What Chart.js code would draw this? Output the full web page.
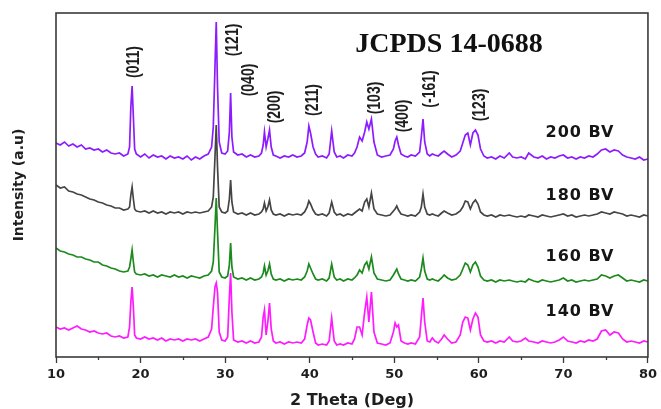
<!DOCTYPE html>
<html>
<head>
<meta charset="utf-8">
<script src="https://cdn.jsdelivr.net/npm/chart.js@4/dist/chart.umd.min.js"></script>
<style>
  html, body { margin: 0; padding: 0; background: #fff; }
  #wrap { width: 661px; height: 409px; }
</style>
</head>
<body>
<div id="wrap"><canvas id="xrd" width="661" height="409"></canvas></div>
<script>
// 2 theta positions shared by all four patterns
var twoTheta = [
    10, 10.5, 11, 11.5, 12, 12.5, 13, 13.5, 14, 14.5, 15, 15.5, 16, 16.5, 17, 17.5, 18, 18.5,
    18.7, 18.85, 19.0, 19.15, 19.3,
    19.5, 20, 20.5, 21, 21.5, 22, 22.5, 23, 23.5, 24, 24.5, 25, 25.5, 26, 26.5, 27, 27.5, 28, 28.4,
    28.6, 28.8, 28.95, 29.1, 29.3,
    29.6, 30.0, 30.3,
    30.5, 30.65, 30.8,
    31.0, 31.5, 32, 32.5, 33, 33.5, 34, 34.3,
    34.5, 34.65, 34.85, 35.05, 35.25, 35.45, 35.7,
    36, 36.5, 37, 37.5, 38, 38.5, 39, 39.4,
    39.7, 39.9, 40.1, 40.4, 40.7,
    41, 41.5, 42, 42.3, 42.6, 42.9,
    43.2, 43.6, 44, 44.5, 45, 45.3,
    45.6, 45.9, 46.2, 46.5, 46.75, 47.0, 47.3, 47.6, 48,
    48.5, 49, 49.5, 49.9, 50.1, 50.3, 50.5, 50.8,
    51.2, 51.6, 52, 52.5, 53.0, 53.2, 53.4, 53.6, 53.9,
    54.2, 54.5, 54.8, 55.2, 55.6, 55.9, 56.3, 56.8, 57.3, 57.8,
    58.1, 58.4, 58.7, 59.0, 59.3, 59.6, 59.9, 60.2, 60.6,
    61, 61.5, 62, 62.5, 63, 63.6, 64, 64.5, 65, 65.5, 65.9, 66.5, 67, 67.5, 68, 68.5, 69, 69.5, 70,
    70.5, 71, 71.5, 72, 72.5, 73, 73.5, 74, 74.5, 75, 75.5, 76, 76.5, 77, 77.5, 78, 78.5, 79, 79.5, 80
];

// intensities (a.u.), already offset for the stacked display
var bv200 = [
    214, 212, 215, 211, 213, 210, 212, 208, 209, 207, 208, 205, 207, 204, 203, 204, 201, 203,
    210, 250, 271, 240, 208,
    203, 200, 203, 199, 202, 200, 201, 198, 201, 199, 200, 198, 201, 197, 200, 198, 201, 203, 210,
    230, 290, 335, 270, 215,
    204, 203, 206,
    225, 264, 220,
    205, 202, 203, 200, 202, 200, 201, 204,
    212, 225, 210, 218, 227, 210, 202,
    201, 199, 201, 200, 202, 200, 201, 204,
    215, 231, 224, 210, 203,
    200, 201, 199, 203, 226, 205,
    200, 201, 199, 202, 201, 204,
    210, 220, 216, 225, 235, 228, 238, 215, 202,
    200, 201, 202, 208, 216, 220, 212, 203,
    201, 200, 202, 201, 205, 220, 238, 215, 203,
    201, 203, 202, 201, 204, 206, 203, 200, 202, 206,
    214, 222, 224, 212, 224, 227, 222, 208, 201,
    199, 200, 198, 201, 199, 204, 200, 199, 200, 198, 204, 200, 199, 201, 198, 200, 199, 201, 202,
    199, 200, 198, 200, 199, 201, 200, 203, 207, 208, 205, 207, 206, 202, 200, 199, 198, 200, 197, 198
];
var bv180 = [
    172, 169, 170, 166, 165, 163, 162, 160, 158, 157, 155, 154, 152, 151, 149, 149, 147, 148,
    150, 162, 170, 158, 148,
    146, 145, 146, 144, 146, 144, 145, 143, 145, 144, 145, 143, 145, 144, 145, 144, 145, 146, 150,
    160, 200, 232, 190, 150,
    145, 144, 146,
    158, 177, 155,
    145, 143, 144, 142, 144, 142, 143, 145,
    148, 154, 146, 150, 157, 147, 143,
    142, 143, 141, 143, 142, 143, 142, 145,
    150, 156, 153, 147, 143,
    142, 143, 141, 144, 155, 145,
    142, 143, 141, 143, 142, 144,
    146, 148, 146, 155, 158, 150, 164, 148, 143,
    142, 141, 142, 146, 148, 151, 147, 143,
    142, 141, 142, 141, 145, 150, 163, 150, 143,
    142, 143, 142, 141, 144, 146, 144, 142, 143, 146,
    150, 156, 155, 148, 154, 157, 153, 145, 142,
    141, 142, 140, 142, 141, 142, 141, 140, 141, 140, 142, 141, 140, 142, 141, 140, 141, 142, 143,
    141, 142, 140, 141, 142, 141, 142, 143, 145, 144, 143, 145, 144, 143, 141, 142, 141, 140, 142, 141
];
var bv160 = [
    109, 106, 105, 103, 102, 100, 100, 98, 97, 95, 95, 92, 91, 89, 88, 86, 85, 86,
    90, 98, 107, 95, 85,
    83, 82, 83, 81, 82, 80, 82, 81, 80, 82, 80, 81, 79, 81, 80, 79, 81, 82, 86,
    95, 130, 159, 125, 85,
    80, 79, 81,
    92, 114, 90,
    80, 78, 79, 77, 79, 77, 78, 80,
    84, 91, 82, 86, 93, 83, 78,
    77, 78, 76, 78, 77, 78, 77, 80,
    86, 93, 89, 83, 78,
    77, 78, 76, 79, 93, 80,
    77, 78, 76, 78, 77, 79,
    82, 87, 84, 92, 95, 88, 100, 84, 78,
    77, 76, 77, 82, 85, 88, 83, 78,
    77, 76, 77, 76, 80, 88, 99, 86, 78,
    77, 78, 77, 76, 79, 82, 79, 77, 78, 82,
    88, 94, 92, 85, 92, 95, 90, 81, 77,
    76, 77, 75, 77, 76, 77, 76, 75, 76, 75, 78, 76, 75, 77, 76, 75, 76, 77, 79,
    76, 77, 75, 76, 77, 76, 77, 78, 82, 81, 79, 81, 82, 79, 76, 77, 76, 75, 77, 76
];
var bv140 = [
    30, 28, 29, 27, 29, 31, 28, 27, 25, 26, 24, 23, 24, 21, 20, 21, 19, 20,
    30, 55, 70, 50, 22,
    19, 18, 20, 18, 19, 17, 19, 16, 18, 17, 18, 16, 18, 17, 18, 16, 18, 20, 28,
    50, 70, 74, 65, 25,
    17, 16, 20,
    60, 84, 45,
    17, 15, 16, 14, 16, 14, 15, 20,
    40, 47, 22, 35, 54, 28, 16,
    14, 15, 13, 15, 14, 15, 14, 18,
    32, 39, 37, 25, 14,
    12, 13, 12, 16, 39, 16,
    12, 13, 12, 14, 13, 18,
    30, 30, 22, 45, 60, 35, 65, 25, 14,
    13, 12, 14, 25, 34, 30, 32, 16,
    14, 13, 14, 13, 20, 40, 59, 35, 16,
    15, 19, 16, 14, 18, 22, 18, 14, 15, 22,
    35, 40, 39, 27, 38, 44, 40, 22, 16,
    15, 16, 14, 16, 15, 20, 16, 15, 16, 19, 16, 15, 14, 16, 15, 14, 15, 17, 20,
    16, 15, 14, 16, 15, 17, 16, 18, 26, 27, 22, 25, 24, 18, 15, 16, 15, 14, 16, 15
];

var sampleNames = ['200 BV', '180 BV', '160 BV', '140 BV'];
var xTicks = [10, 20, 30, 40, 50, 60, 70, 80];
var hklLabels = ['(011)', '(121)', '(040)', '(200)', '(211)', '(103)', '(400)', '(-161)', '(123)'];

function toPoints(ys) {
    return twoTheta.map(function (t, i) { return { x: t, y: ys[i] }; });
}

// labels, frame and minor ticks drawn on top of the chart
var decorations = {
    id: 'decorations',
    afterDraw: function (chart) {
        var ctx = chart.ctx;
        var area = chart.chartArea;
        var xs = chart.scales.x;
        ctx.save();

        // frame
        ctx.strokeStyle = '#3a3a3a';
        ctx.lineWidth = 1.6;
        ctx.strokeRect(area.left, area.top, area.right - area.left, area.bottom - area.top);

        // minor ticks
        ctx.lineWidth = 1.3;
        for (var v = 15; v < 80; v += 10) {
            var px = Math.round(xs.getPixelForValue(v)) + 0.5;
            ctx.beginPath();
            ctx.moveTo(px, area.bottom);
            ctx.lineTo(px, area.bottom + 3);
            ctx.stroke();
        }

        // hkl labels (rotated)
        var hklPos = [[134, 62], [233, 40], [249, 80], [275, 107], [313, 100],
                      [375, 98], [403, 116], [430, 89], [480, 105]];
        ctx.fillStyle = '#1e1e1e';
        ctx.font = 'bold 14px "Liberation Sans", Arial, sans-serif';
        ctx.textAlign = 'center';
        ctx.textBaseline = 'middle';
        hklLabels.forEach(function (lab, i) {
            ctx.save();
            ctx.translate(hklPos[i][0], hklPos[i][1]);
            ctx.rotate(-Math.PI / 2);
            ctx.scale(1, 1.25);
            ctx.fillText(lab, 0, 0);
            ctx.restore();
        });

        // sample names
        var nameY = [133, 196, 257, 312];
        ctx.font = 'bold 16px "DejaVu Sans", sans-serif';
        ctx.fillStyle = '#151515';
        ctx.letterSpacing = '1px';
        sampleNames.forEach(function (n, i) {
            ctx.fillText(n, 580, nameY[i]);
        });
        ctx.letterSpacing = '0px';

        // card number
        ctx.font = 'bold 28px "Liberation Serif", "Times New Roman", serif';
        ctx.fillStyle = '#111';
        ctx.textBaseline = 'alphabetic';
        ctx.fillText('JCPDS 14-0688', 449, 52);
        ctx.restore();
    }
};

var ctx = document.getElementById('xrd').getContext('2d');
var chart = new Chart(ctx, {
    type: 'line',
    data: {
        datasets: [
            { label: sampleNames[0], data: toPoints(bv200), borderColor: '#8c1cff', order: 4 },
            { label: sampleNames[1], data: toPoints(bv180), borderColor: '#454545', order: 3 },
            { label: sampleNames[2], data: toPoints(bv160), borderColor: '#1c8a1c', order: 2 },
            { label: sampleNames[3], data: toPoints(bv140), borderColor: '#ff1aff', order: 1 }
        ]
    },
    options: {
        responsive: false,
        animation: false,
        layout: { padding: { left: 0, right: 9, top: 13, bottom: 0 } },
        elements: {
            point: { radius: 0 },
            line: { borderWidth: 1.7, tension: 0, fill: false }
        },
        plugins: {
            legend: { display: false },
            tooltip: { enabled: false }
        },
        scales: {
            x: {
                type: 'linear',
                min: 10,
                max: 80,
                afterFit: function (scale) { scale.height = 52; },
                afterBuildTicks: function (scale) {
                    scale.ticks = xTicks.map(function (v) { return { value: v }; });
                },
                ticks: {
                    padding: 4,
                    color: '#1e1e1e',
                    font: { family: '"DejaVu Sans", sans-serif', size: 13, weight: 'bold' }
                },
                grid: {
                    drawOnChartArea: false,
                    drawTicks: true,
                    tickLength: 6,
                    tickColor: '#3a3a3a',
                    tickWidth: 1.3
                },
                border: { display: false },
                title: {
                    display: true,
                    text: '2 Theta (Deg)',
                    color: '#1e1e1e',
                    padding: { top: 0, bottom: 0 },
                    font: { family: '"DejaVu Sans", sans-serif', size: 16, weight: 'bold', lineHeight: 1.0 }
                }
            },
            y: {
                min: 0,
                max: 344,
                afterFit: function (scale) { scale.width = 56; },
                ticks: { display: false },
                grid: { display: false },
                border: { display: false },
                title: {
                    display: true,
                    text: 'Intensity (a.u)',
                    color: '#1e1e1e',
                    padding: { top: 11, bottom: 0 },
                    font: { family: '"DejaVu Sans", sans-serif', size: 14, weight: 'bold', lineHeight: 1.2 }
                }
            }
        }
    },
    plugins: [decorations]
});
</script>
</body>
</html>
